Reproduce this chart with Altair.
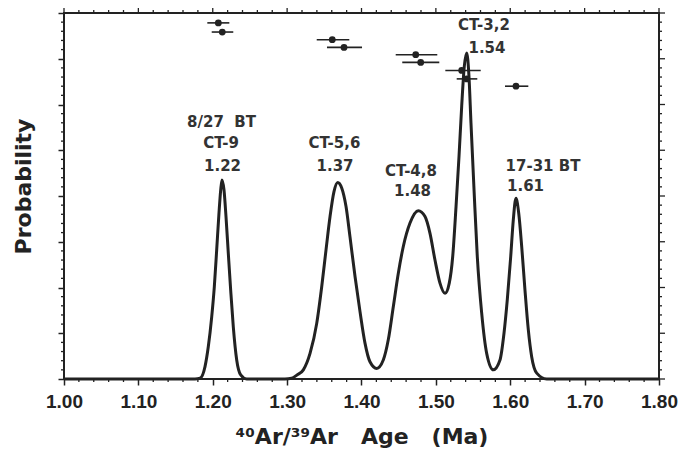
import altair as alt
import pandas as pd

# ---- probability curve (age in Ma, relative probability 0..1)
curve_age = [1.000, 1.1761, 1.1829, 1.1896, 1.1940, 1.1986, 1.2021, 1.2053, 1.2084, 1.2107,
             1.2124, 1.2151, 1.2178, 1.2209, 1.2241, 1.2276, 1.2322, 1.2376, 1.2456,
             1.2971, 1.3061, 1.3133, 1.3218, 1.3308, 1.3398, 1.3465, 1.3523, 1.3577, 1.3630,
             1.3680, 1.3734, 1.3792, 1.3845, 1.3913, 1.3980, 1.4047, 1.4114, 1.4204,
             1.4293, 1.4360, 1.4428, 1.4495, 1.4562, 1.4652, 1.4764, 1.4854, 1.4921, 1.4988,
             1.5055, 1.5123, 1.5180, 1.5226, 1.5271, 1.5311, 1.5347, 1.5382, 1.5414,
             1.5445, 1.5472, 1.5513, 1.5557, 1.5616, 1.5683, 1.5772, 1.5862, 1.5916, 1.5960,
             1.6006, 1.6041, 1.6077, 1.6114, 1.6154, 1.6198, 1.6243, 1.6288, 1.6356, 1.6490,
             1.800]
curve_prob = [0.0, 0.0, 0.002, 0.034, 0.088, 0.170, 0.252, 0.353, 0.454, 0.517,
              0.544, 0.517, 0.444, 0.344, 0.243, 0.143, 0.052, 0.011, 0.0,
              0.0, 0.002, 0.011, 0.025, 0.070, 0.152, 0.252, 0.353, 0.444, 0.512,
              0.537, 0.522, 0.471, 0.389, 0.280, 0.184, 0.098, 0.047, 0.029,
              0.052, 0.107, 0.198, 0.289, 0.362, 0.426, 0.460, 0.444, 0.398, 0.325,
              0.262, 0.234, 0.262, 0.334, 0.471, 0.608, 0.745, 0.854, 0.891,
              0.827, 0.699, 0.517, 0.334, 0.180, 0.070, 0.025, 0.052, 0.125, 0.216,
              0.334, 0.435, 0.494, 0.453, 0.362, 0.243, 0.134, 0.061, 0.016, 0.0,
              0.0]

# ---- individual ages with error bars (plotted near the top)
pt_age = [1.2075, 1.2128, 1.3607, 1.3765, 1.4729, 1.4796, 1.5347, 1.5414, 1.6077]
pt_lo = [1.1927, 1.1986, 1.3398, 1.3536, 1.4460, 1.4548, 1.5127, 1.5280, 1.5929]
pt_hi = [1.2223, 1.2276, 1.3836, 1.4007, 1.5019, 1.5046, 1.5603, 1.5557, 1.6243]
pt_level = [0.973, 0.948, 0.927, 0.906, 0.886, 0.865, 0.843, 0.820, 0.800]

# ---- peak annotations
lab_text = ["8/27\u00a0\u00a0BT", "CT-9", "1.22", "CT-5,6", "1.37", "CT-4,8", "1.48",
            "CT-3,2", "1.54", "17-31 BT", "1.61"]
lab_age = [1.2118, 1.2111, 1.2131, 1.3637, 1.3644, 1.4666, 1.4686,
           1.5647, 1.5687, 1.6440, 1.6205]
lab_level = [0.701, 0.644, 0.582, 0.644, 0.582, 0.567, 0.513,
             0.967, 0.905, 0.582, 0.526]

# ---- axis ticks
x_major = [1.00, 1.10, 1.20, 1.30, 1.40, 1.50, 1.60, 1.70, 1.80]
x_minor = [round(1.0 + 0.02 * i, 2) for i in range(41) if i % 5 != 0]
y_major = [i / 8 for i in range(9)]
y_minor = [i / 40 for i in range(41) if i % 5 != 0]

W, H = 595, 366
INK = "#222222"

xscale = alt.Scale(domain=[1.0, 1.8], nice=False, zero=False)
yscale = alt.Scale(domain=[0, 1], nice=False, zero=True)

NB = "\u00a0"
x_title = "\u2074\u2070Ar/\u00b3\u2079Ar" + NB * 3 + "Age" + NB * 3 + "(Ma)"

x_axis = alt.Axis(
    values=x_major, format=".2f", tickSize=6, tickWidth=1.5, tickColor=INK,
    domain=False, grid=False, labelFont="Liberation Sans", labelFontWeight="bold",
    labelFontSize=19, labelColor=INK, labelPadding=7, labelFlush=False,
    labelOverlap=False,
    title=x_title,
    titleFont="DejaVu Sans", titleFontWeight="bold", titleFontSize=22,
    titleColor=INK, titleX=W / 2, titleY=64, titleAlign="center",
    titleBaseline="alphabetic")
y_axis = alt.Axis(
    values=y_major, labels=False, tickSize=6, tickWidth=1.5, tickColor=INK,
    domain=False, grid=False, title="Probability",
    titleFont="DejaVu Sans", titleFontWeight="bold", titleFontSize=22,
    titleColor=INK, titleAngle=270, titleX=-41, titleY=173,
    titleAlign="center", titleBaseline="middle")

curve = pd.DataFrame({"age": curve_age, "p": curve_prob})
pts = pd.DataFrame({"age": pt_age, "lo": pt_lo, "hi": pt_hi, "lev": pt_level})
labs = pd.DataFrame({"text": lab_text, "age": lab_age, "lev": lab_level})

line = alt.Chart(curve).mark_line(
    color=INK, strokeWidth=3, interpolate="monotone"
).encode(
    x=alt.X("age:Q", scale=xscale, axis=x_axis),
    y=alt.Y("p:Q", scale=yscale, axis=y_axis),
)

bars = alt.Chart(pts).mark_rule(color=INK, strokeWidth=1.6).encode(
    x=alt.X("lo:Q", scale=xscale, axis=x_axis),
    x2="hi:Q",
    y=alt.Y("lev:Q", scale=yscale, axis=y_axis),
)
dots = alt.Chart(pts).mark_circle(color=INK, opacity=1, size=46).encode(
    x=alt.X("age:Q", scale=xscale, axis=x_axis),
    y=alt.Y("lev:Q", scale=yscale, axis=y_axis),
)
texts = alt.Chart(labs).mark_text(
    font="DejaVu Sans", fontWeight="bold", fontSize=15, color="#333333",
    align="center", baseline="middle"
).encode(
    x=alt.X("age:Q", scale=xscale, axis=x_axis),
    y=alt.Y("lev:Q", scale=yscale, axis=y_axis),
    text="text:N",
)

xmaj = pd.DataFrame({"t": x_major})
xmin = pd.DataFrame({"t": x_minor})
ymaj = pd.DataFrame({"t": y_major})
ymin = pd.DataFrame({"t": y_minor})


def xticks(df, y0, y1):
    return alt.Chart(df).mark_rule(color=INK, strokeWidth=1.3).encode(
        x=alt.X("t:Q", scale=xscale, axis=x_axis), y=alt.value(y0), y2=alt.value(y1))


def yticks(df, x0, x1):
    return alt.Chart(df).mark_rule(color=INK, strokeWidth=1.3).encode(
        y=alt.Y("t:Q", scale=yscale, axis=y_axis), x=alt.value(x0), x2=alt.value(x1))


ticks = [
    xticks(xmin, H, H + 3),
    xticks(xmaj, 0, -6),
    xticks(xmin, 0, -3),
    yticks(ymin, 0, -3),
    yticks(ymaj, W, W + 6),
    yticks(ymin, W, W + 3),
]

chart = alt.layer(line, *ticks, bars, dots, texts).properties(
    width=W, height=H,
    autosize=alt.AutoSizeParams(type="none"),
    padding={"left": 56, "top": 5, "right": 30, "bottom": 70},
    background="white",
).configure_view(stroke=INK, strokeWidth=2)

chart.save("out.html", embed_options={"renderer": "svg", "actions": False})
